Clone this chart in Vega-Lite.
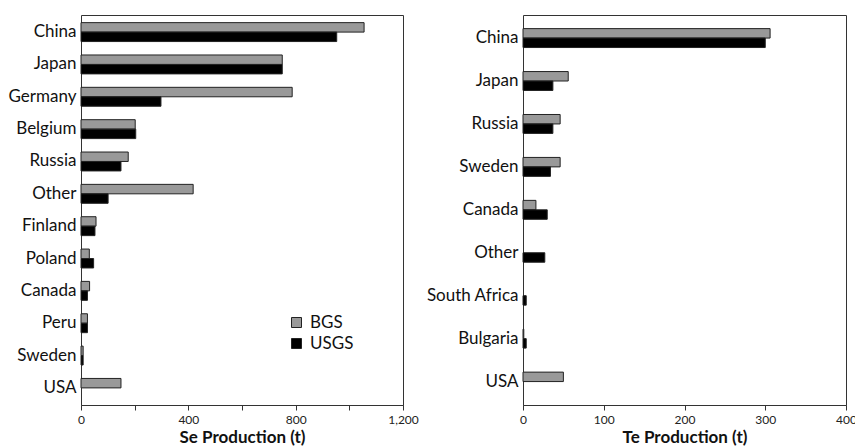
{
  "$schema": "https://vega.github.io/schema/vega-lite/v6.json",
  "padding": {"left": 7, "top": 14, "right": 0, "bottom": 0},
  "spacing": 6,
  "background": "white",
  "config": {
    "font": "Lato",
    "view": {"stroke": "#333", "strokeWidth": 1},
    "axis": {"labelFont": "Lato", "titleFont": "Lato", "labelColor": "#222", "titleColor": "#111", "domainColor": "#333", "tickColor": "#333", "grid": false},
    "legend": {"labelFont": "Lato"}
  },
  "hconcat": [
    {
      "width": 322,
      "height": 390,
      "data": {"values": [
        {"country": "China", "source": "BGS", "value": 1055},
        {"country": "China", "source": "USGS", "value": 953},
        {"country": "Japan", "source": "BGS", "value": 750},
        {"country": "Japan", "source": "USGS", "value": 750},
        {"country": "Germany", "source": "BGS", "value": 787},
        {"country": "Germany", "source": "USGS", "value": 298},
        {"country": "Belgium", "source": "BGS", "value": 202},
        {"country": "Belgium", "source": "USGS", "value": 204},
        {"country": "Russia", "source": "BGS", "value": 176},
        {"country": "Russia", "source": "USGS", "value": 149},
        {"country": "Other", "source": "BGS", "value": 418},
        {"country": "Other", "source": "USGS", "value": 101},
        {"country": "Finland", "source": "BGS", "value": 56},
        {"country": "Finland", "source": "USGS", "value": 52},
        {"country": "Poland", "source": "BGS", "value": 31},
        {"country": "Poland", "source": "USGS", "value": 47},
        {"country": "Canada", "source": "BGS", "value": 32},
        {"country": "Canada", "source": "USGS", "value": 24},
        {"country": "Peru", "source": "BGS", "value": 24},
        {"country": "Peru", "source": "USGS", "value": 24},
        {"country": "Sweden", "source": "BGS", "value": 8},
        {"country": "Sweden", "source": "USGS", "value": 8},
        {"country": "USA", "source": "BGS", "value": 149}
      ]},
      "mark": {"type": "bar", "stroke": "#222", "strokeWidth": 1},
      "encoding": {
        "y": {"field": "country", "type": "nominal",
          "sort": ["China","Japan","Germany","Belgium","Russia","Other","Finland","Poland","Canada","Peru","Sweden","USA"],
          "scale": {"paddingInner": 0.415, "paddingOuter": 0.236},
          "axis": {"title": null, "ticks": false, "domain": false, "labelFontSize": 17, "labelPadding": 5, "labelColor": "#111"}},
        "yOffset": {"field": "source", "type": "nominal", "sort": ["BGS", "USGS"]},
        "x": {"field": "value", "type": "quantitative",
          "scale": {"domain": [0, 1200], "nice": false},
          "axis": {"title": "Se Production (t)", "values": [0,200,400,600,800,1000,1200],
            "labelExpr": "datum.value % 400 == 0 ? format(datum.value, ',') : ''",
            "labelFontSize": 12, "tickSize": 5, "labelPadding": 4, "titleFontSize": 17, "titleFontWeight": "bold", "titlePadding": 4, "labelFlush": false}},
        "color": {"field": "source", "type": "nominal",
          "scale": {"domain": ["BGS", "USGS"], "range": ["#999999", "#000000"]},
          "legend": {"title": null, "orient": "none", "legendX": 207, "legendY": 299, "symbolType": "square", "symbolSize": 100, "symbolStrokeColor": "#222", "symbolStrokeWidth": 1, "labelFontSize": 17, "labelColor": "#111", "labelOffset": 5, "rowPadding": 3, "padding": 0}}
      }
    },
    {
      "width": 323,
      "height": 390,
      "data": {"values": [
        {"country": "China", "source": "BGS", "value": 306},
        {"country": "China", "source": "USGS", "value": 300},
        {"country": "Japan", "source": "BGS", "value": 56},
        {"country": "Japan", "source": "USGS", "value": 37},
        {"country": "Russia", "source": "BGS", "value": 46},
        {"country": "Russia", "source": "USGS", "value": 37},
        {"country": "Sweden", "source": "BGS", "value": 46},
        {"country": "Sweden", "source": "USGS", "value": 34},
        {"country": "Canada", "source": "BGS", "value": 16},
        {"country": "Canada", "source": "USGS", "value": 30},
        {"country": "Other", "source": "USGS", "value": 27},
        {"country": "South Africa", "source": "USGS", "value": 4},
        {"country": "Bulgaria", "source": "BGS", "value": 1},
        {"country": "Bulgaria", "source": "USGS", "value": 4},
        {"country": "USA", "source": "BGS", "value": 50}
      ]},
      "mark": {"type": "bar", "stroke": "#222", "strokeWidth": 1},
      "encoding": {
        "y": {"field": "country", "type": "nominal",
          "sort": ["China","Japan","Russia","Sweden","Canada","Other","South Africa","Bulgaria","USA"],
          "scale": {"paddingInner": 0.551, "paddingOuter": 0.317},
          "axis": {"title": null, "ticks": false, "domain": false, "labelFontSize": 17, "labelPadding": 5, "labelColor": "#111"}},
        "yOffset": {"field": "source", "type": "nominal", "sort": ["BGS", "USGS"], "scale": {"domain": ["BGS", "USGS"]}},
        "x": {"field": "value", "type": "quantitative",
          "scale": {"domain": [0, 400], "nice": false},
          "axis": {"title": "Te Production (t)", "values": [0,100,200,300,400],
            "labelFontSize": 12, "tickSize": 5, "labelPadding": 4, "titleFontSize": 17, "titleFontWeight": "bold", "titlePadding": 4, "labelFlush": false}},
        "color": {"field": "source", "type": "nominal",
          "scale": {"domain": ["BGS", "USGS"], "range": ["#999999", "#000000"]},
          "legend": null}
      }
    }
  ]
}
